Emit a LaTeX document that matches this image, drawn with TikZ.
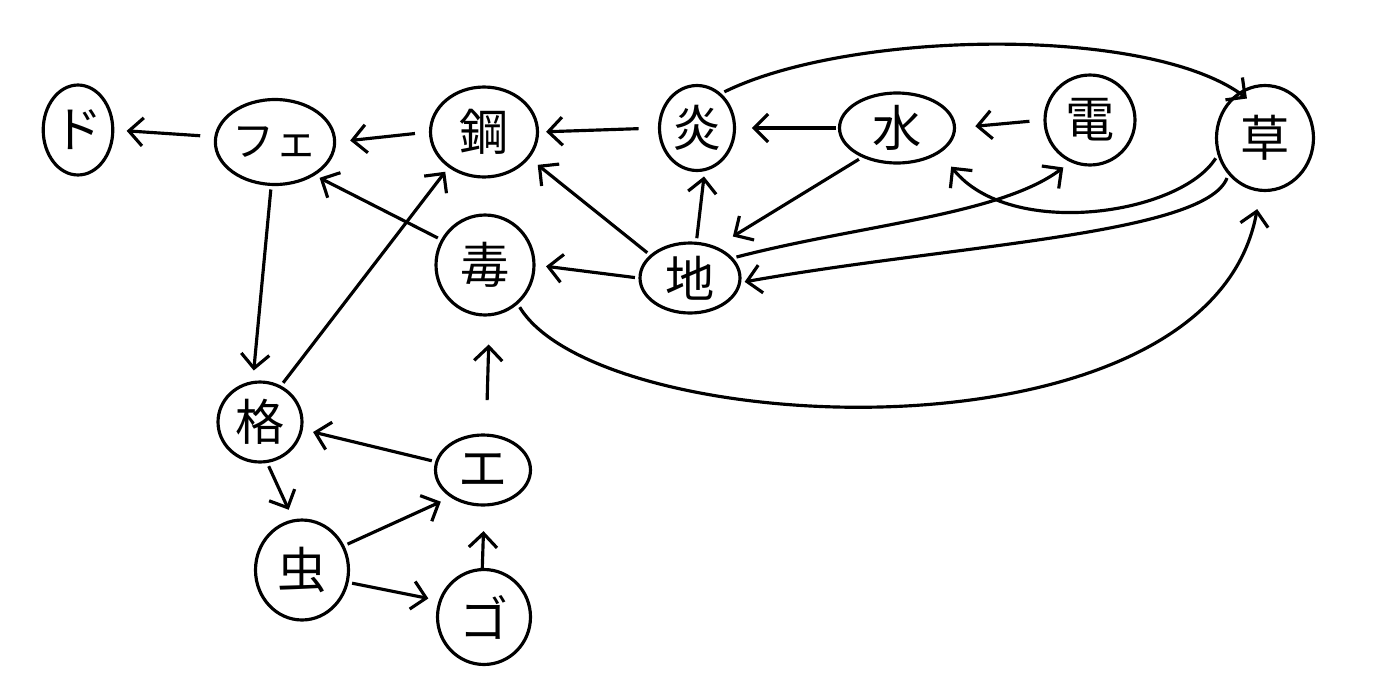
\documentclass[tikz,border=0pt]{standalone}
\usepackage{fontspec}
\newfontfamily\jp{Noto Sans CJK JP}
\usetikzlibrary{shapes.geometric,arrows.meta}

\begin{document}
\begin{tikzpicture}
  [x=0.02cm,y=-0.02cm,
   line width=1.8pt,
   typenode/.style={draw,ellipse,inner sep=0pt,
     font=\jp\fontsize{28}{28}\selectfont},
   beats/.style={-{Straight Barb[length=8pt,width=16pt]},
     shorten >=6pt,shorten <=2pt}]
  \useasboundingbox (0,0) rectangle (1400,700);

  % top row
  \node (dragon) [typenode,minimum width=1.34cm,minimum height=1.8cm] at (78,130) {ド};
  \node (fairy) [typenode,minimum width=1.6cm,minimum height=1.7cm,
    font=\jp\fontsize{24}{24}\selectfont] at (275,142) {フェ};
  \node (steel) [typenode,minimum width=2.14cm,minimum height=1.8cm] at (484,132) {鋼};
  \node (fire) [typenode,minimum width=1.5cm,minimum height=1.7cm] at (697,128) {炎};
  \node (water) [typenode,minimum width=2.3cm,minimum height=1.4cm] at (897,128) {水};
  \node (electric) [typenode,minimum width=1.8cm,minimum height=1.8cm] at (1090,120) {電};
  \node (grass) [typenode,minimum width=1.94cm,minimum height=2.1cm] at (1265,138) {草};

  % middle
  \node (poison) [typenode,minimum width=1.96cm,minimum height=2cm] at (485,265) {毒};
  \node (ground) [typenode,minimum width=2cm,minimum height=1.4cm] at (690,278) {地};

  % bottom
  \node (fighting) [typenode,minimum width=1.68cm,minimum height=1.6cm] at (260,422) {格};
  \node (psychic) [typenode,minimum width=1.9cm,minimum height=1.4cm] at (483,470) {エ};
  \node (bug) [typenode,minimum width=1.86cm,minimum height=2cm] at (302,570) {虫};
  \node (ghost) [typenode,minimum width=1.86cm,minimum height=1.9cm] at (484,617) {ゴ};

  \draw [beats,shorten <=8pt,shorten >=7pt] (fairy.175) -- (dragon.east);
  \draw [beats,shorten <=8pt,shorten >=8pt] (steel.west) -- (fairy.east);
  \draw [beats,shorten <=11pt,shorten >=4pt] (fire.west) -- (steel.east);
  \draw [beats,shorten <=1pt,shorten >=9pt] (water.west) -- (fire.east);
  \draw [beats,shorten <=8pt,shorten >=11pt] (electric.west) -- (water.east);

  \draw [beats] (ground.150) -- (steel.-30);
  \draw [beats,shorten >=3pt] (poison.150) -- (fairy.-40);
  \draw [beats,shorten >=3pt] (fighting.60) -- (steel.-135);
  \draw [beats] (fairy.-95) -- (fighting.100);
  \draw [beats] (ground.west) -- (poison.east);
  \draw [beats,shorten >=3pt] (ground.80) -- (fire.-80);
  \draw [beats,shorten >=11pt] (water.-140) -- (ground.50);

  \draw [beats,shorten >=5pt]
    (ground.25) .. controls (860,225) and (1000,215) .. (electric.-115);
  \draw [beats,shorten >=2pt]
    (grass.-135) .. controls (1205,235) and (950,245) .. (ground.-5);
  \draw [beats,shorten >=10pt]
    (grass.-160) .. controls (1180,215) and (1010,240) .. (water.-30);
  \draw [beats,shorten >=-6pt]
    (fire.55) .. controls (850,30) and (1150,25) .. (grass.120);
  \draw [beats,shorten >=10pt]
    (poison.-50) .. controls (600,440) and (1210,470) .. (grass.-95);

  \draw [beats,shorten <=19pt,shorten >=16pt] (psychic.85) -- (poison.-85);
  \draw [beats] (psychic.170) -- (fighting.-10);
  \draw [beats] (fighting.-80) -- (bug.100);
  \draw [beats] (bug.30) -- (psychic.-140);
  \draw [beats] (bug.-15) -- (ghost.160);
  \draw [beats,shorten <=0pt,shorten >=14pt] (ghost.92) -- (psychic.-88);
\end{tikzpicture}
\end{document}
